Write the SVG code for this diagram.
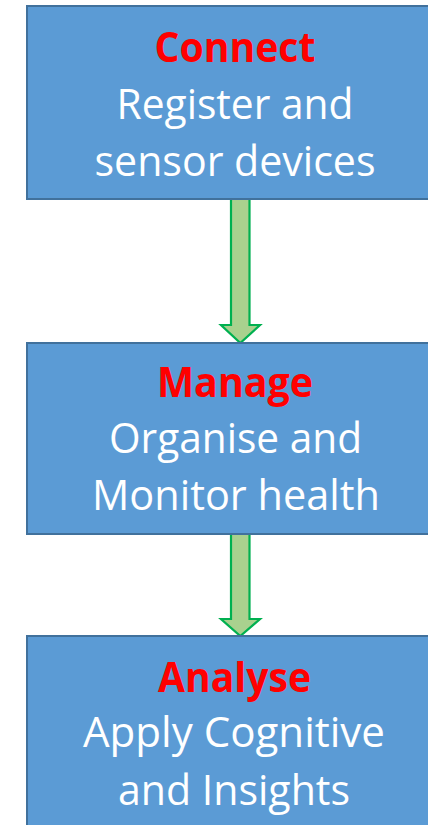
<svg xmlns="http://www.w3.org/2000/svg" width="428" height="825" viewBox="0 0 428 825">
<style>
.box{fill:#5B9BD5;stroke:#41719C;stroke-width:2}
.arrow{fill:#A9D18E;stroke:#00B050;stroke-width:2.2;stroke-linejoin:miter}
.title{font-family:"Open Sans","Liberation Sans",sans-serif;font-weight:bold;font-size:42px;fill:#FF0000;text-anchor:middle}
.body{font-family:"Open Sans","Liberation Sans",sans-serif;font-size:42px;fill:#FFFFFF;text-anchor:middle}
</style>
<rect width="428" height="825" fill="#FFFFFF"/>
<g id="connectors">
<polygon class="arrow" points="231,198 249.5,198 249.5,325 260,325 240.3,343 221,325 231,325"/>
<polygon class="arrow" points="231,534 249.5,534 249.5,619 260,619 240.3,636 221,619 231,619"/>
</g>
<g id="node-connect">
<rect class="box" x="27" y="6" width="420" height="193"/>
<text class="title" x="235" y="62" textLength="161" lengthAdjust="spacingAndGlyphs">Connect</text>
<text class="body" x="235" y="119" textLength="237" lengthAdjust="spacingAndGlyphs">Register and</text>
<text class="body" x="235" y="176" textLength="281" lengthAdjust="spacingAndGlyphs">sensor devices</text>
</g>
<g id="node-manage">
<rect class="box" x="27" y="343" width="420" height="191"/>
<text class="title" x="235" y="397" textLength="156" lengthAdjust="spacingAndGlyphs">Manage</text>
<text class="body" x="235.5" y="453" textLength="253" lengthAdjust="spacingAndGlyphs">Organise and</text>
<text class="body" x="236" y="510" textLength="288" lengthAdjust="spacingAndGlyphs">Monitor health</text>
</g>
<g id="node-analyse">
<rect class="box" x="27" y="636" width="420" height="200"/>
<text class="title" x="234.5" y="692" textLength="153" lengthAdjust="spacingAndGlyphs">Analyse</text>
<text class="body" x="234" y="747" textLength="302" lengthAdjust="spacingAndGlyphs">Apply Cognitive</text>
<text class="body" x="234" y="805" textLength="232" lengthAdjust="spacingAndGlyphs">and Insights</text>
</g>
</svg>
